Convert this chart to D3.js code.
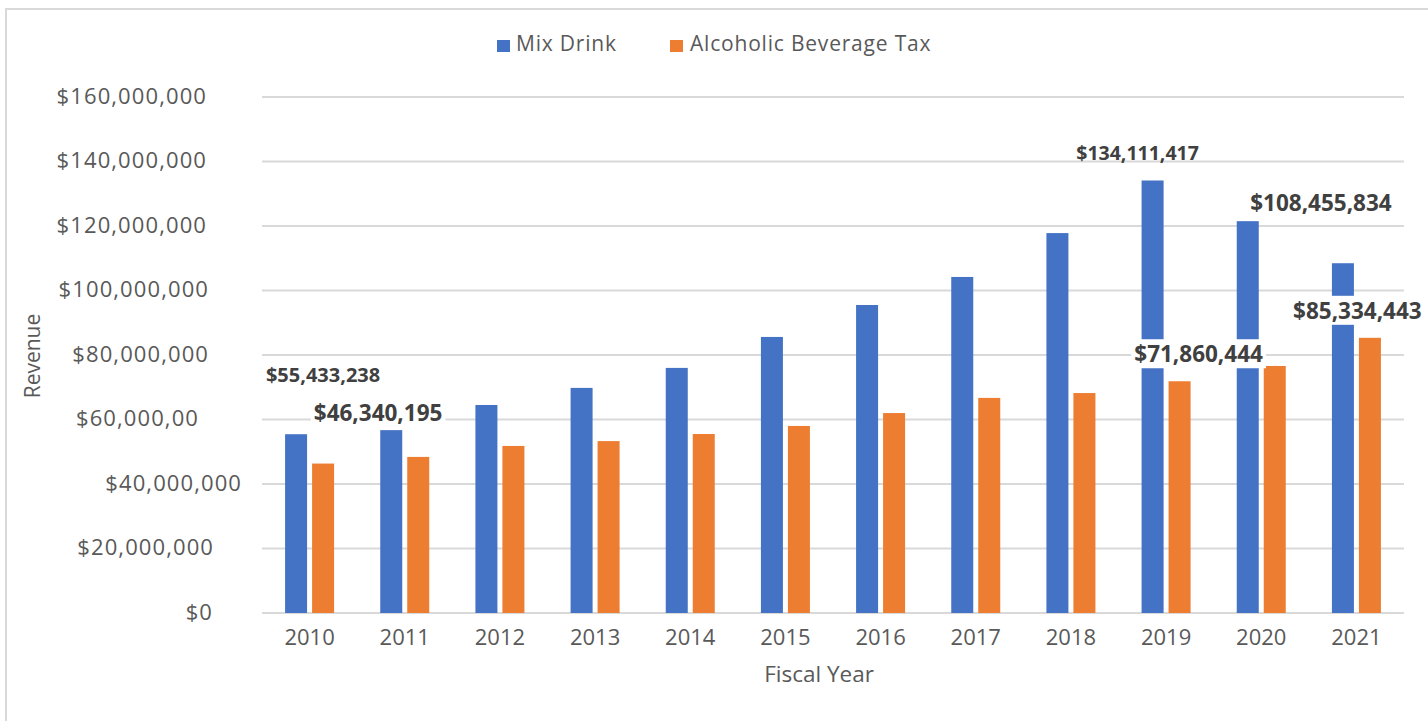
<!DOCTYPE html>
<html>
<head>
<meta charset="utf-8">
<script src="https://cdn.jsdelivr.net/npm/d3@7"></script>
<style>
  body { margin: 0; background: #fff; }
  svg { display: block; }
  text { font-family: "Open Sans", sans-serif; }
</style>
</head>
<body>
<svg id="chart" width="1428" height="721"></svg>
<script>
// Fiscal years on the x axis
const years = ["2010", "2011", "2012", "2013", "2014", "2015", "2016", "2017", "2018", "2019", "2020", "2021"];
const seriesNames = ["Mix Drink", "Alcoholic Beverage Tax"];
// Revenue by fiscal year (USD)
const mixDrink = [55433238, 56700000, 64500000, 69800000, 76000000, 85600000, 95500000, 104200000, 117800000, 134111417, 121500000, 108455834];
const beverageTax = [46340195, 48400000, 51800000, 53300000, 55500000, 58000000, 62000000, 66700000, 68200000, 71860444, 76600000, 85334443];
// Value axis ticks and their printed labels
const yTickValues = [0, 20e6, 40e6, 60e6, 80e6, 100e6, 120e6, 140e6, 160e6];
const yTickLabels = ["$0", "$20,000,000", "$40,000,000", "$60,000,00", "$80,000,000", "$100,000,000", "$120,000,000", "$140,000,000", "$160,000,000"];
// Bars that carry a value label
const labelledYears = ["2010", "2010", "2019", "2019", "2021", "2021"];
const labelledSeries = [0, 1, 0, 1, 0, 1];

const seriesValues = [mixDrink, beverageTax];
const colors = ["#4472C4", "#ED7D31"];

const svg = d3.select("#chart");

// Chart frame
svg.append("rect")
  .attr("x", 6).attr("y", 9)
  .attr("width", 1440).attr("height", 730)
  .attr("fill", "#fff")
  .attr("stroke", "#d9d9d9").attr("stroke-width", 2);

const plot = { left: 262, right: 1404, top: 97, bottom: 613 };

const x0 = d3.scaleBand().domain(years).range([plot.left, plot.right]).paddingInner(0).paddingOuter(0);
const bw = x0.bandwidth();
const x1 = d3.scaleBand().domain([0, 1]).range([bw / 2 - 24.5, bw / 2 + 24.5]).paddingInner(0.185);
const y = d3.scaleLinear().domain([0, 160e6]).range([plot.bottom, plot.top]);

// Horizontal gridlines
svg.append("g")
  .selectAll("line")
  .data(yTickValues)
  .join("line")
  .attr("x1", plot.left).attr("x2", plot.right)
  .attr("y1", d => y(d)).attr("y2", d => y(d))
  .attr("stroke", "#d9d9d9").attr("stroke-width", 1.8);

// Y axis labels
const yAxis = svg.append("g")
  .attr("transform", `translate(209,0)`)
  .call(d3.axisLeft(y).tickValues(yTickValues)
    .tickFormat((d, i) => yTickLabels[i]).tickSize(0).tickPadding(0));
yAxis.select(".domain").remove();
const yNudge = { 0: 4, 20e6: 5, 40e6: 33, 60e6: -10, 80e6: 0, 100e6: 0, 120e6: -2, 140e6: -2, 160e6: -2 };
yAxis.selectAll("text")
  .attr("x", d => yNudge[d])
  .attr("dy", "0.28em")
  .attr("fill", "#595959")
  .style("font-size", "22px")
  .style("letter-spacing", "1.1px");

// Bars
const groups = svg.append("g")
  .selectAll("g")
  .data(years)
  .join("g")
  .attr("transform", d => `translate(${x0(d)},0)`);

groups.selectAll("rect")
  .data((d, i) => seriesValues.map((vals, s) => ({ s, v: vals[i] })))
  .join("rect")
  .attr("x", d => x1(d.s))
  .attr("width", x1.bandwidth())
  .attr("y", d => y(d.v))
  .attr("height", d => y(0) - y(d.v))
  .attr("fill", d => colors[d.s]);

// X axis labels
const xAxis = svg.append("g")
  .attr("transform", `translate(0,${plot.bottom})`)
  .call(d3.axisBottom(x0).tickSize(0).tickPadding(16));
xAxis.select(".domain").remove();
xAxis.selectAll("text")
  .attr("fill", "#595959")
  .style("font-size", "22px");

// Axis titles
svg.append("text")
  .attr("x", 819).attr("y", 674)
  .attr("text-anchor", "middle").attr("dy", "0.35em")
  .attr("fill", "#595959").style("font-size", "22.5px")
  .text("Fiscal Year");

svg.append("text")
  .attr("transform", "translate(33,356) rotate(-90)")
  .attr("text-anchor", "middle").attr("dy", "0.35em")
  .attr("fill", "#595959").style("font-size", "21px")
  .text("Revenue");

// Legend
const legendItems = [
  { sx: 497, tx: 516 },
  { sx: 670, tx: 690 }
];
const legend = svg.append("g");
legendItems.forEach((it, i) => {
  legend.append("rect")
    .attr("x", it.sx).attr("y", 40)
    .attr("width", 13).attr("height", 12)
    .attr("fill", colors[i]);
  legend.append("text")
    .attr("x", it.tx).attr("y", 44)
    .attr("dy", "0.35em")
    .attr("fill", "#595959").style("font-size", "21px")
    .style("letter-spacing", "0.8px")
    .text(seriesNames[i]);
});

// Value labels, placed relative to the top of their bar
const fmt = d3.format("$,.0f");
const labelPlacement = [
  { dx: 27, dy: -59, size: 20, boxed: false },
  { dx: 55, dy: -50, size: 22.5, boxed: true },
  { dx: -15, dy: -27, size: 19.5, boxed: false },
  { dx: 19, dy: -27, size: 22.5, boxed: true },
  { dx: -22, dy: -60, size: 22.5, boxed: false },
  { dx: -12.5, dy: -27, size: 22.5, boxed: true }
];
const labelLayer = svg.append("g");
labelledYears.forEach((yr, k) => {
  const s = labelledSeries[k];
  const idx = years.indexOf(yr);
  const v = seriesValues[s][idx];
  const p = labelPlacement[k];
  const cx = x0(yr) + x1(s) + x1.bandwidth() / 2 + p.dx;
  const cy = y(v) + p.dy;
  const g = labelLayer.append("g");
  const t = g.append("text")
    .attr("x", cx).attr("y", cy)
    .attr("text-anchor", "middle").attr("dy", "0.35em")
    .attr("fill", "#404040")
    .style("font-size", p.size + "px")
    .style("font-weight", 700)
    .text(fmt(v));
  if (p.boxed) {
    const bb = t.node().getBBox();
    g.insert("rect", "text")
      .attr("x", bb.x - 3).attr("y", cy - 15)
      .attr("width", bb.width + 6).attr("height", 29)
      .attr("fill", "#fff");
  }
});
</script>
</body>
</html>
